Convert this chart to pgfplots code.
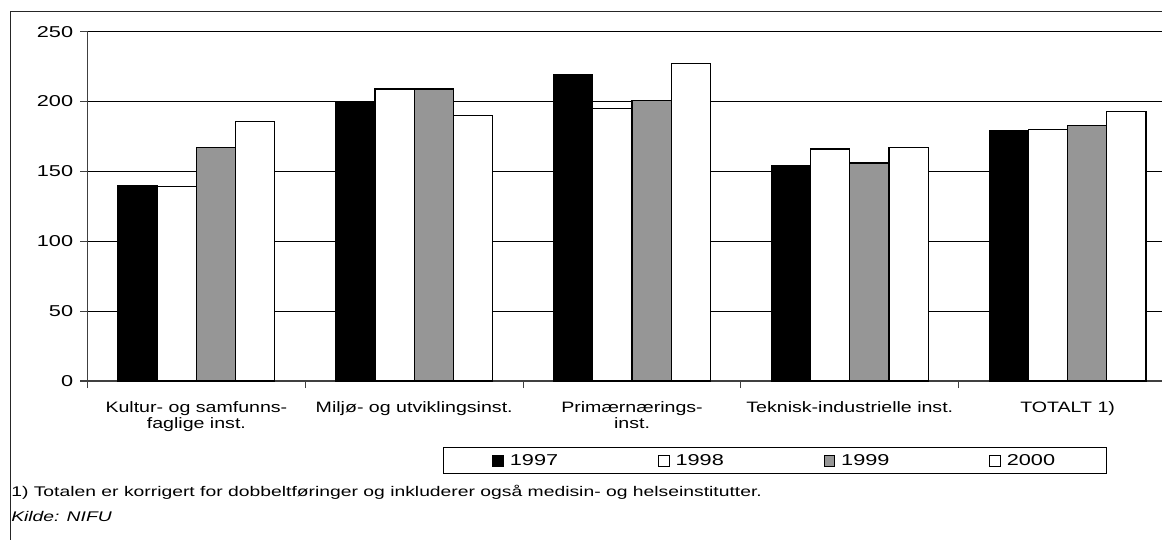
\documentclass[border=0pt]{standalone}
\usepackage{pgfplots}
\pgfplotsset{compat=1.18}
\usepackage{fontspec}
\setmainfont{Liberation Sans}
\newfontfamily\wfont[FakeStretch=1.38]{Liberation Sans}
\newfontfamily\cfont[FakeStretch=1.3]{Liberation Sans}
\definecolor{bargray}{RGB}{150,150,150}
\begin{document}
\begin{tikzpicture}
\begin{scope}[x=0.75pt,y=-0.75pt]
\draw[line width=0.8pt, black!85] (10.5,545) -- (10.5,11.5) -- (1170,11.5);
\node[anchor=west, inner sep=0pt, font=\wfont\fontsize{10.5}{13}\selectfont] at (11,492) {1) Totalen er korrigert for dobbeltføringer og inkluderer også medisin- og helseinstitutter.};
\node[anchor=west, inner sep=0pt, font=\wfont\fontsize{10.5}{13}\selectfont\itshape] at (11,516) {Kilde: NIFU};
\end{scope}
\begin{axis}[
  at={(65.625pt,-285.75pt)}, anchor=south west,
  scale only axis, width=816.75pt, height=262pt,
  xmin=-0.5, xmax=4.5, ymin=0, ymax=250,
  ybar=0pt, bar width=0.18,
  axis x line*=bottom, axis y line*=left,
  axis line style={black!75, line width=0.8pt},
  ymajorgrids, major grid style={black, line width=0.7pt},
  ytick={0,50,...,250},
  tick align=outside, major tick length=5.25pt,
  tick style={black!75, line width=0.8pt},
  xtick={-0.5,0.5,...,4.5},
  x tick label as interval,
  xticklabels={{Kultur- og samfunns-\\faglige inst.},{Miljø- og utviklingsinst.},{Primærnærings-\\inst.},{Teknisk-industrielle inst.},{TOTALT 1)}},
  xticklabel style={align=center, font=\cfont\fontsize{11.3}{12.2}\selectfont, yshift=-6.5pt},
  yticklabel style={font=\wfont\fontsize{11.8}{14}\selectfont, xshift=-2pt},
  /pgf/number format/assume math mode=true,
  legend columns=4,
  legend entries={1997,1998,1999,2000},
  legend style={at={(0.3264,-0.189)}, anchor=north west, draw=black, line width=0.75pt,
    font=\wfont\fontsize{11.8}{14}\selectfont, inner xsep=36.75pt, inner ysep=3pt,
    /tikz/every even column/.append style={column sep=72.9pt},
    /tikz/every odd column/.append style={column sep=2.5pt}},
  legend image code/.code={\draw[#1, line width=0.6pt] (0pt,-4pt) rectangle (8pt,4pt);},
]
\addplot[fill=black, draw=black, line width=0.9pt] coordinates {(0,140) (1,200) (2,219) (3,154) (4,179)};
\addplot[fill=white, draw=black, line width=0.9pt] coordinates {(0,139) (1,209) (2,195) (3,166) (4,180)};
\addplot[fill=bargray, draw=black, line width=0.9pt] coordinates {(0,167) (1,209) (2,201) (3,156) (4,183)};
\addplot[fill=white, draw=black, line width=0.9pt] coordinates {(0,186) (1,190) (2,227) (3,167) (4,193)};
\end{axis}
\pgfresetboundingbox
\path[use as bounding box] (0,0) rectangle (871.5pt,-404.25pt);
\end{tikzpicture}
\end{document}
